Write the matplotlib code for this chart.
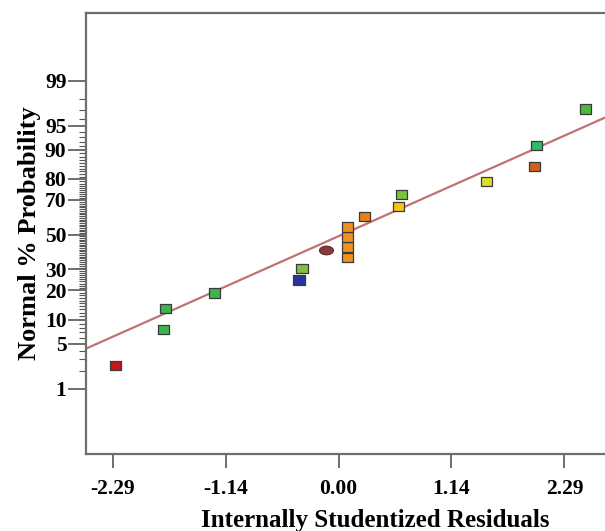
import numpy as np
import matplotlib.pyplot as plt
from matplotlib.ticker import FixedLocator, FixedFormatter
from statistics import NormalDist

nd = NormalDist()
probit = np.vectorize(lambda p: nd.inv_cdf(p / 100.0))

# residuals and their normal % probabilities
resid = [-2.26, -1.77, -1.75, -1.26, -0.40, -0.37,
         0.09, 0.09, 0.09, 0.09, 0.26, 0.61, 0.64, 1.50, 1.99, 2.01, 2.50]
prob = [2.4, 7.6, 13.2, 18.9, 24.7, 30.5,
        36.4, 42.6, 48.6, 54.6, 60.9, 66.5, 72.9, 78.8, 84.9, 91.1, 97.1]
cols = ['#c4161c', '#3cb54a', '#3cb54a', '#3cb54a', '#27339c', '#7dc242',
        '#f0901e', '#f0901e', '#f0901e', '#f0901e', '#e8801c', '#f5c518',
        '#7dc242', '#d9df2a', '#d2601a', '#2fba66', '#4cbb3c']

# point drawn as a dot
dot_x, dot_p = -0.13, 41.0

# fitted normal line: z = b + m * residual
line_b, line_m = -0.023, 0.663

xticks = [-2.29, -1.14, 0.00, 1.14, 2.29]
yticks = [1, 5, 10, 20, 30, 50, 70, 80, 90, 95, 99]

plt.rcParams['font.family'] = ['Liberation Serif', 'DejaVu Serif']
plt.rcParams['font.weight'] = 'bold'

fig = plt.figure(figsize=(6.05, 5.31), dpi=100)
ax = fig.add_axes([0.142, 0.145, 0.866, 0.831])

ax.axline((0, line_b), slope=line_m, color='#c07272', lw=1.6, zorder=2)

box = [(-1.2, -1), (1.2, -1), (1.2, 1), (-1.2, 1), (-1.2, -1)]
t = np.linspace(0, 2 * np.pi, 13)
oval = np.column_stack([np.cos(t), 0.62 * np.sin(t)])

ax.scatter(resid, probit(prob), marker=box, s=66, c=cols,
           edgecolors='#3a3a3a', linewidths=0.9, zorder=3)
ax.scatter([dot_x], probit([dot_p]), marker=oval, s=105, c='#8b3a3a',
           edgecolors='#5a2a2a', linewidths=0.8, zorder=3)

ax.set_xlim(-2.56, 2.75)
ax.set_ylim(-3.31, 3.35)

ax.xaxis.set_major_locator(FixedLocator(xticks))
ax.xaxis.set_major_formatter(FixedFormatter([f'{v:.2f}' for v in xticks]))
ax.yaxis.set_major_locator(FixedLocator(probit(yticks)))
ax.yaxis.set_major_formatter(FixedFormatter([str(v) for v in yticks]))
minor = [p for p in range(1, 100) if p not in yticks]
ax.yaxis.set_minor_locator(FixedLocator(probit(minor)))

ax.tick_params(axis='both', which='major', labelsize=15.5, color='#555555',
               width=1.2, direction='out')
ax.tick_params(axis='x', which='major', length=10, pad=8)
ax.tick_params(axis='y', which='major', length=13, pad=1)
ax.tick_params(axis='y', which='minor', length=5, width=0.8, color='#555555')

for s in ['left', 'bottom', 'top']:
    ax.spines[s].set_color('#6e6e6e')
    ax.spines[s].set_linewidth(1.6)
ax.spines['right'].set_visible(False)

ax.set_xlabel('Internally Studentized Residuals', fontsize=18,
              fontweight='bold')
ax.xaxis.set_label_coords(0.552, -0.125)
ax.set_ylabel('Normal % Probability', fontsize=19, fontweight='bold')
ax.yaxis.set_label_coords(-0.086, 0.5)

fig.savefig('out.png', dpi=100)
